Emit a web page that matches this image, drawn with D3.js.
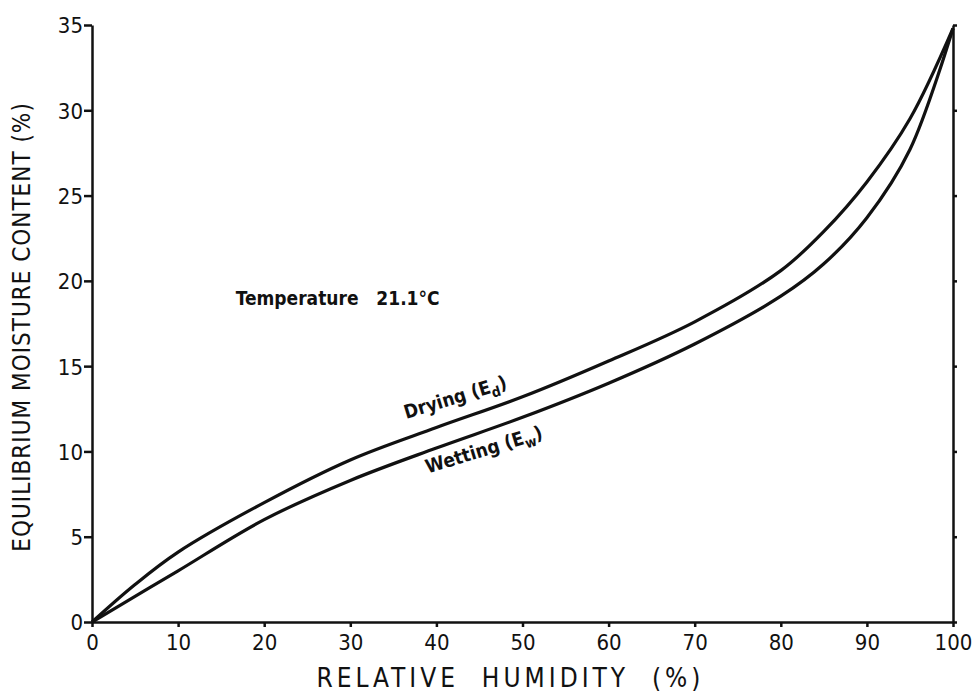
<!DOCTYPE html>
<html>
<head>
<meta charset="utf-8">
<script src="https://cdn.jsdelivr.net/npm/d3@7"></script>
<style>
  body { margin: 0; background: #fff; }
  text { font-family: "DejaVu Sans Condensed", "DejaVu Sans", sans-serif; fill: #111; }
</style>
</head>
<body>
<div id="container"></div>
<script>
// values
var humidity = [0, 5, 10, 20, 30, 40, 50, 60, 70, 80, 85, 90, 95, 100];
var drying   = [0, 2.2, 4.1, 7.0, 9.5, 11.4, 13.2, 15.3, 17.6, 20.6, 22.9, 25.8, 29.5, 34.8];
var wetting  = [0, 1.5, 3.0, 6.0, 8.3, 10.2, 12.0, 14.0, 16.3, 19.1, 21.0, 23.7, 27.7, 34.8];
var xTicks = [0, 10, 20, 30, 40, 50, 60, 70, 80, 90, 100];
var yTicks = [0, 5, 10, 15, 20, 25, 30, 35];

var margin = {top: 25, right: 26, bottom: 71, left: 92},
    width = 979 - margin.left - margin.right,
    height = 693 - margin.top - margin.bottom;

var svg = d3.select("#container")
  .append("svg")
    .attr("width", 979)
    .attr("height", 693)
  .append("g")
    .attr("transform", "translate(" + margin.left + "," + margin.top + ")");

var x = d3.scaleLinear().domain([0, 100]).range([0, width]);
var y = d3.scaleLinear().domain([0, 35]).range([height, 0]);

// x axis
var xa = svg.append("g")
  .attr("transform", "translate(0," + height + ")")
  .call(d3.axisBottom(x).tickValues(xTicks).tickSize(5).tickSizeOuter(0));
xa.selectAll("text").style("font-size", "22px").attr("dy", "0.9em");

// y axis
var ya = svg.append("g")
  .call(d3.axisLeft(y).tickValues(yTicks).tickSize(8).tickSizeOuter(0));
ya.selectAll("text").style("font-size", "22px").attr("dy", "0.36em").attr("x", -9);

// right edge line
svg.append("g")
  .attr("transform", "translate(" + width + ",0)")
  .call(d3.axisRight(y).tickValues(yTicks).tickSize(4).tickSizeOuter(0).tickFormat(""));

svg.selectAll(".domain, .tick line")
  .attr("stroke", "#111")
  .attr("stroke-width", 2.5);

// curves
var line = d3.line()
  .x(d => x(d[0]))
  .y(d => y(d[1]))
  .curve(d3.curveCatmullRom.alpha(0.5));

svg.append("path")
  .datum(humidity.map((h, i) => [h, drying[i]]))
  .attr("fill", "none")
  .attr("stroke", "#111")
  .attr("stroke-width", 3.2)
  .attr("d", line);

svg.append("path")
  .datum(humidity.map((h, i) => [h, wetting[i]]))
  .attr("fill", "none")
  .attr("stroke", "#111")
  .attr("stroke-width", 3.2)
  .attr("d", line);

// curve labels
var dl = svg.append("text")
  .attr("transform", "translate(" + x(36.5) + "," + y(11.9) + ") rotate(-17)")
  .style("font-size", "19px")
  .style("font-weight", "bold");
dl.append("tspan").text("Drying (E");
dl.append("tspan").attr("dy", 5).style("font-size", "14px").text("d");
dl.append("tspan").attr("dy", -5).text(")");

var wl = svg.append("text")
  .attr("transform", "translate(" + x(39) + "," + y(8.7) + ") rotate(-17)")
  .style("font-size", "19px")
  .style("font-weight", "bold");
wl.append("tspan").text("Wetting (E");
wl.append("tspan").attr("dy", 5).style("font-size", "14px").text("w");
wl.append("tspan").attr("dy", -5).text(")");

svg.append("text")
  .attr("x", x(16.7))
  .attr("y", y(18.6))
  .style("font-size", "19px")
  .style("font-weight", "bold")
  .style("white-space", "pre")
  .text("Temperature   21.1°C");

// axis titles
svg.append("text")
  .attr("x", x(48.6))
  .attr("y", height + 65)
  .attr("text-anchor", "middle")
  .style("font-size", "26px")
  .style("letter-spacing", "4px")
  .style("white-space", "pre")
  .text("RELATIVE  HUMIDITY  (%)");

svg.append("text")
  .attr("transform", "rotate(-90)")
  .attr("x", -y(17.3))
  .attr("y", -62)
  .attr("text-anchor", "middle")
  .style("font-size", "24px")
  .style("letter-spacing", "1px")
  .text("EQUILIBRIUM MOISTURE CONTENT (%)");
</script>
</body>
</html>
